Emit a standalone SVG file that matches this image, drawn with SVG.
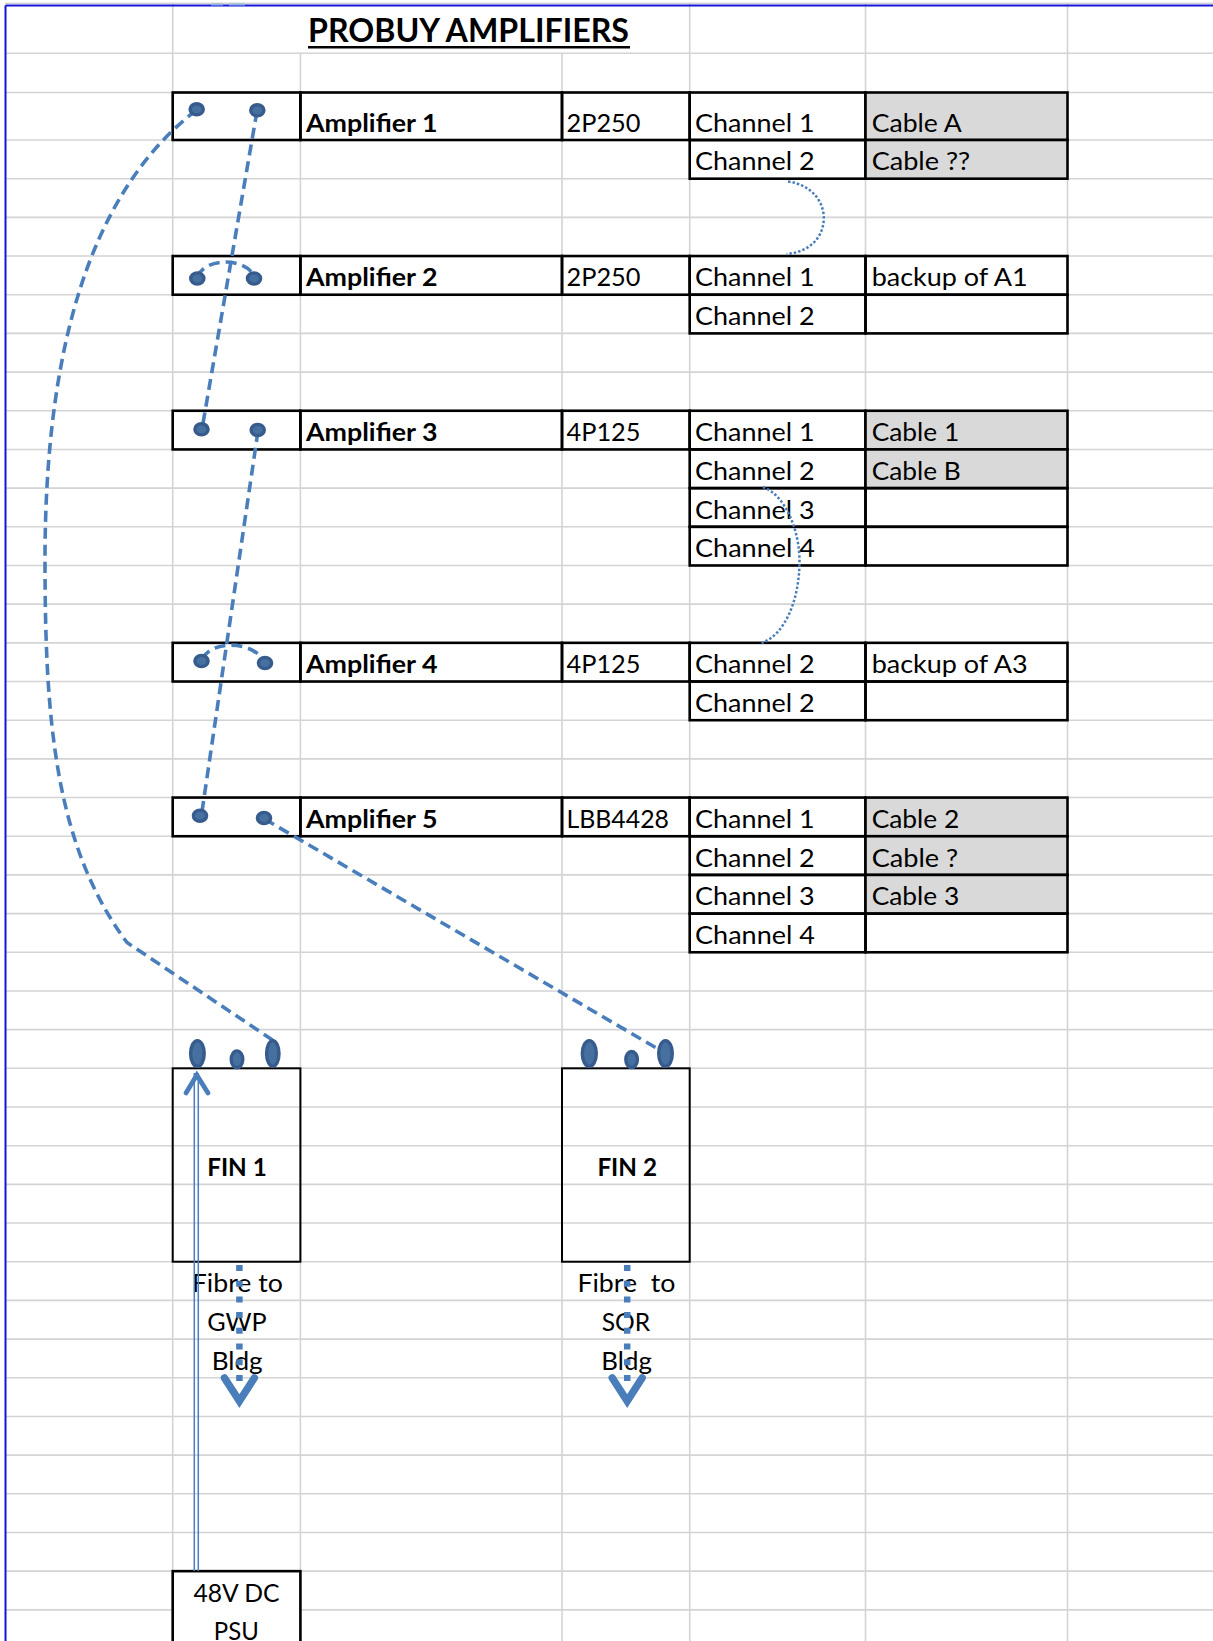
<svg xmlns="http://www.w3.org/2000/svg" width="1213" height="1641" viewBox="0 0 1213 1641">
<style>
.gl{stroke:#d4d4d4;stroke-width:1.6;fill:none}
.c{fill:none;stroke:#000;stroke-width:2.6}
.w{fill:#fff;stroke:#000;stroke-width:2.6}
.g{fill:#d9d9d9;stroke:#000;stroke-width:2.6}
.f{fill:none;stroke:#000;stroke-width:2}
.t{font-family:Lato,"Liberation Sans",sans-serif;font-size:25.5px;fill:#000;white-space:pre}
.b{font-weight:bold}
.m{text-anchor:middle}
.dash{fill:none;stroke:#4a7ebb;stroke-width:3.6;stroke-dasharray:11 6}
.dot{fill:none;stroke:#4a7ebb;stroke-width:2.5;stroke-dasharray:2.5 2}
.sq{fill:none;stroke:#4a7ebb;stroke-width:6.5;stroke-dasharray:6 9.7}
.chev{fill:none;stroke:#4a7ebb;stroke-width:7.5;stroke-linecap:round;stroke-linejoin:miter}
.thin{fill:none;stroke:#4a7ebb;stroke-width:1.5}
.pin{fill:#45709f;stroke:#365b8c;stroke-width:3.4}
</style>
<rect width="1213" height="1641" fill="#fff"/>
<g id="grid">
<path class="gl" d="M5 3.3H1213M5 53.3H1213M5 92.5H1213M5 140H1213M5 178.68H1213M5 217.36H1213M5 256.04H1213M5 294.72H1213M5 333.4H1213M5 372.08H1213M5 410.76H1213M5 449.44H1213M5 488.12H1213M5 526.8H1213M5 565.48H1213M5 604.16H1213M5 642.84H1213M5 681.52H1213M5 720.2H1213M5 758.88H1213M5 797.56H1213M5 836.24H1213M5 874.92H1213M5 913.6H1213M5 952.28H1213M5 990.96H1213M5 1029.64H1213M5 1068.32H1213M5 1107H1213M5 1145.68H1213M5 1184.36H1213M5 1223.04H1213M5 1261.72H1213M5 1300.4H1213M5 1339.08H1213M5 1377.76H1213M5 1416.44H1213M5 1455.12H1213M5 1493.8H1213M5 1532.48H1213M5 1571.16H1213M5 1609.84H1213"/>
<path class="gl" d="M172.7 3V1641M300.4 53.3V1641M562 53.3V1641M689.7 3V1641M865.5 3V1641M1067.5 3V1641"/>
<path d="M5.5 5.5V1641M5.5 5.5H1213" fill="none" stroke="#1515d8" stroke-width="2"/>
<path d="M211 4.5H223M229 4.5H245" fill="none" stroke="#8db3e2" stroke-width="2"/>
</g>
<g id="title">
<text class="t b" x="308" y="41.7" style="font-size:31.5px" textLength="321" lengthAdjust="spacingAndGlyphs">PROBUY AMPLIFIERS</text>
<line x1="308" y1="47.3" x2="630" y2="47.3" stroke="#000" stroke-width="2.6"/>
</g>
<g id="amp1">
<rect class="c" x="172.7" y="92.5" width="127.7" height="47.5"/>
<rect class="c" x="300.4" y="92.5" width="261.6" height="47.5"/>
<rect class="c" x="562" y="92.5" width="127.7" height="47.5"/>
<rect class="c" x="689.7" y="92.5" width="175.8" height="47.5"/>
<rect class="g" x="865.5" y="92.5" width="202" height="47.5"/>
<rect class="c" x="689.7" y="140" width="175.8" height="38.68"/>
<rect class="g" x="865.5" y="140" width="202" height="38.68"/>
<text class="t b" x="306" y="131.7" textLength="131.5" lengthAdjust="spacingAndGlyphs">Amplifier 1</text>
<text class="t" x="566.5" y="131.7" textLength="74" lengthAdjust="spacingAndGlyphs">2P250</text>
<text class="t" x="695" y="131.7" textLength="119.5" lengthAdjust="spacingAndGlyphs">Channel 1</text>
<text class="t" x="871.7" y="131.7" textLength="90" lengthAdjust="spacingAndGlyphs">Cable A</text>
<text class="t" x="695" y="170.4" textLength="119.5" lengthAdjust="spacingAndGlyphs">Channel 2</text>
<text class="t" x="871.7" y="170.4" textLength="98.5" lengthAdjust="spacingAndGlyphs">Cable ??</text>
</g>
<g id="amp2">
<rect class="c" x="172.7" y="256.04" width="127.7" height="38.68"/>
<rect class="c" x="300.4" y="256.04" width="261.6" height="38.68"/>
<rect class="c" x="562" y="256.04" width="127.7" height="38.68"/>
<rect class="c" x="689.7" y="256.04" width="175.8" height="38.68"/>
<rect class="c" x="865.5" y="256.04" width="202" height="38.68"/>
<rect class="c" x="689.7" y="294.72" width="175.8" height="38.68"/>
<rect class="c" x="865.5" y="294.72" width="202" height="38.68"/>
<text class="t b" x="306" y="286.4" textLength="131.5" lengthAdjust="spacingAndGlyphs">Amplifier 2</text>
<text class="t" x="566.5" y="286.4" textLength="74" lengthAdjust="spacingAndGlyphs">2P250</text>
<text class="t" x="695" y="286.4" textLength="119.5" lengthAdjust="spacingAndGlyphs">Channel 1</text>
<text class="t" x="871.7" y="286.4" textLength="156" lengthAdjust="spacingAndGlyphs">backup of A1</text>
<text class="t" x="695" y="325.1" textLength="119.5" lengthAdjust="spacingAndGlyphs">Channel 2</text>
</g>
<g id="amp3">
<rect class="c" x="172.7" y="410.76" width="127.7" height="38.68"/>
<rect class="c" x="300.4" y="410.76" width="261.6" height="38.68"/>
<rect class="c" x="562" y="410.76" width="127.7" height="38.68"/>
<rect class="c" x="689.7" y="410.76" width="175.8" height="38.68"/>
<rect class="g" x="865.5" y="410.76" width="202" height="38.68"/>
<rect class="c" x="689.7" y="449.44" width="175.8" height="38.68"/>
<rect class="g" x="865.5" y="449.44" width="202" height="38.68"/>
<rect class="c" x="689.7" y="488.12" width="175.8" height="38.68"/>
<rect class="c" x="865.5" y="488.12" width="202" height="38.68"/>
<rect class="c" x="689.7" y="526.8" width="175.8" height="38.68"/>
<rect class="c" x="865.5" y="526.8" width="202" height="38.68"/>
<text class="t b" x="306" y="441.1" textLength="131.5" lengthAdjust="spacingAndGlyphs">Amplifier 3</text>
<text class="t" x="566.5" y="441.1" textLength="74" lengthAdjust="spacingAndGlyphs">4P125</text>
<text class="t" x="695" y="441.1" textLength="119.5" lengthAdjust="spacingAndGlyphs">Channel 1</text>
<text class="t" x="871.7" y="441.1" textLength="87.5" lengthAdjust="spacingAndGlyphs">Cable 1</text>
<text class="t" x="695" y="479.8" textLength="119.5" lengthAdjust="spacingAndGlyphs">Channel 2</text>
<text class="t" x="871.7" y="479.8" textLength="89" lengthAdjust="spacingAndGlyphs">Cable B</text>
<text class="t" x="695" y="518.5" textLength="119.5" lengthAdjust="spacingAndGlyphs">Channel 3</text>
<text class="t" x="695" y="557.2" textLength="120" lengthAdjust="spacingAndGlyphs">Channel 4</text>
</g>
<g id="amp4">
<rect class="c" x="172.7" y="642.84" width="127.7" height="38.68"/>
<rect class="c" x="300.4" y="642.84" width="261.6" height="38.68"/>
<rect class="c" x="562" y="642.84" width="127.7" height="38.68"/>
<rect class="c" x="689.7" y="642.84" width="175.8" height="38.68"/>
<rect class="c" x="865.5" y="642.84" width="202" height="38.68"/>
<rect class="c" x="689.7" y="681.52" width="175.8" height="38.68"/>
<rect class="c" x="865.5" y="681.52" width="202" height="38.68"/>
<text class="t b" x="306" y="673.2" textLength="131.5" lengthAdjust="spacingAndGlyphs">Amplifier 4</text>
<text class="t" x="566.5" y="673.2" textLength="74" lengthAdjust="spacingAndGlyphs">4P125</text>
<text class="t" x="695" y="673.2" textLength="119.5" lengthAdjust="spacingAndGlyphs">Channel 2</text>
<text class="t" x="871.7" y="673.2" textLength="156" lengthAdjust="spacingAndGlyphs">backup of A3</text>
<text class="t" x="695" y="711.9" textLength="119.5" lengthAdjust="spacingAndGlyphs">Channel 2</text>
</g>
<g id="amp5">
<rect class="c" x="172.7" y="797.56" width="127.7" height="38.68"/>
<rect class="c" x="300.4" y="797.56" width="261.6" height="38.68"/>
<rect class="c" x="562" y="797.56" width="127.7" height="38.68"/>
<rect class="c" x="689.7" y="797.56" width="175.8" height="38.68"/>
<rect class="g" x="865.5" y="797.56" width="202" height="38.68"/>
<rect class="c" x="689.7" y="836.24" width="175.8" height="38.68"/>
<rect class="g" x="865.5" y="836.24" width="202" height="38.68"/>
<rect class="c" x="689.7" y="874.92" width="175.8" height="38.68"/>
<rect class="g" x="865.5" y="874.92" width="202" height="38.68"/>
<rect class="c" x="689.7" y="913.6" width="175.8" height="38.68"/>
<rect class="c" x="865.5" y="913.6" width="202" height="38.68"/>
<text class="t b" x="306" y="827.9" textLength="131.5" lengthAdjust="spacingAndGlyphs">Amplifier 5</text>
<text class="t" x="566.5" y="827.9" textLength="102.5" lengthAdjust="spacingAndGlyphs">LBB4428</text>
<text class="t" x="695" y="827.9" textLength="119.5" lengthAdjust="spacingAndGlyphs">Channel 1</text>
<text class="t" x="871.7" y="827.9" textLength="87.5" lengthAdjust="spacingAndGlyphs">Cable 2</text>
<text class="t" x="695" y="866.6" textLength="119.5" lengthAdjust="spacingAndGlyphs">Channel 2</text>
<text class="t" x="871.7" y="866.6" textLength="86.5" lengthAdjust="spacingAndGlyphs">Cable ?</text>
<text class="t" x="695" y="905.3" textLength="119.5" lengthAdjust="spacingAndGlyphs">Channel 3</text>
<text class="t" x="871.7" y="905.3" textLength="87.5" lengthAdjust="spacingAndGlyphs">Cable 3</text>
<text class="t" x="695" y="944" textLength="120" lengthAdjust="spacingAndGlyphs">Channel 4</text>
</g>
<g id="fin1">
<rect class="f" x="172.7" y="1068.32" width="127.7" height="193.4"/>
<text class="t b m" x="237" y="1175.5" textLength="59.6" lengthAdjust="spacingAndGlyphs">FIN 1</text>
<text class="t m" x="237.3" y="1292.1" textLength="91" lengthAdjust="spacingAndGlyphs">Fibre to</text>
<text class="t m" x="236.9" y="1330.8" textLength="59.5" lengthAdjust="spacingAndGlyphs">GWP</text>
<text class="t m" x="237.2" y="1369.5" textLength="51" lengthAdjust="spacingAndGlyphs">Bldg</text>
</g>
<g id="fin2">
<rect class="f" x="562" y="1068.32" width="127.7" height="193.4"/>
<text class="t b m" x="627.2" y="1175.5" textLength="59.6" lengthAdjust="spacingAndGlyphs">FIN 2</text>
<text class="t m" x="626.4" y="1292.1" textLength="98" lengthAdjust="spacingAndGlyphs" xml:space="preserve">Fibre  to</text>
<text class="t m" x="626" y="1330.8" textLength="48.5" lengthAdjust="spacingAndGlyphs">SOR</text>
<text class="t m" x="626.6" y="1369.5" textLength="50.5" lengthAdjust="spacingAndGlyphs">Bldg</text>
</g>
<g id="psu">
<rect class="w" x="172.7" y="1571.16" width="127.7" height="90"/>
<text class="t m" x="236.5" y="1601.5" textLength="86" lengthAdjust="spacingAndGlyphs">48V DC</text>
<text class="t m" x="236.3" y="1639.5" textLength="45" lengthAdjust="spacingAndGlyphs">PSU</text>
</g>
<g id="connectors">
<path class="dash" d="M257 111L202 429"/>
<path class="dash" d="M197 277C206 257 245 257 255 277"/>
<path class="dash" d="M258 431L201.5 815"/>
<path class="dash" d="M202 659C212 640 252 640 265 662"/>
<path class="dash" d="M196.5 110C85.4 195.4 45 360 45 560C45 720 55 846 127 942.5L272.5 1040"/>
<path class="dash" d="M264.5 819L655.5 1047.5"/>
<path class="dot" d="M788 181.5C836 188 836 250 786.5 254"/>
<path class="dot" d="M763 487C785 495 800 530 799.5 563C799 600 785 635 761.5 643"/>
<path class="sq" d="M239.4 1265V1386"/>
<path class="sq" d="M627.2 1265V1386"/>
<path class="chev" d="M224.5 1378L239.4 1401L254.3 1378"/>
<path class="chev" d="M612.3 1378L627.2 1401L642.1 1378"/>
<path class="thin" d="M194.3 1571V1073M198.3 1571V1073"/>
<path class="chev" style="stroke-width:4.8" d="M186 1093L196.8 1075L208 1093"/>
</g>
<g id="pins">
<ellipse class="pin" cx="196.7" cy="109.3" rx="6.6" ry="5.6"/>
<ellipse class="pin" cx="257.3" cy="110.3" rx="6.6" ry="5.6"/>
<ellipse class="pin" cx="197.3" cy="278.5" rx="6.6" ry="5.6"/>
<ellipse class="pin" cx="254" cy="278.5" rx="6.6" ry="5.6"/>
<ellipse class="pin" cx="201.5" cy="429.3" rx="6.6" ry="5.6"/>
<ellipse class="pin" cx="257.7" cy="430" rx="6.6" ry="5.6"/>
<ellipse class="pin" cx="201.5" cy="661" rx="6.6" ry="5.6"/>
<ellipse class="pin" cx="265" cy="663" rx="6.6" ry="5.6"/>
<ellipse class="pin" cx="200" cy="815.7" rx="6.6" ry="5.6"/>
<ellipse class="pin" cx="264" cy="818" rx="6.6" ry="5.6"/>
<ellipse class="pin" cx="197.4" cy="1053.5" rx="6.8" ry="12.9"/>
<ellipse class="pin" cx="237" cy="1059.3" rx="5.8" ry="8.4"/>
<ellipse class="pin" cx="272.8" cy="1053.5" rx="6.2" ry="12.9"/>
<ellipse class="pin" cx="589.3" cy="1053.5" rx="7" ry="12.9"/>
<ellipse class="pin" cx="631.6" cy="1059.5" rx="5.8" ry="8"/>
<ellipse class="pin" cx="665.5" cy="1053.5" rx="6.8" ry="12.9"/>
</g>
</svg>
